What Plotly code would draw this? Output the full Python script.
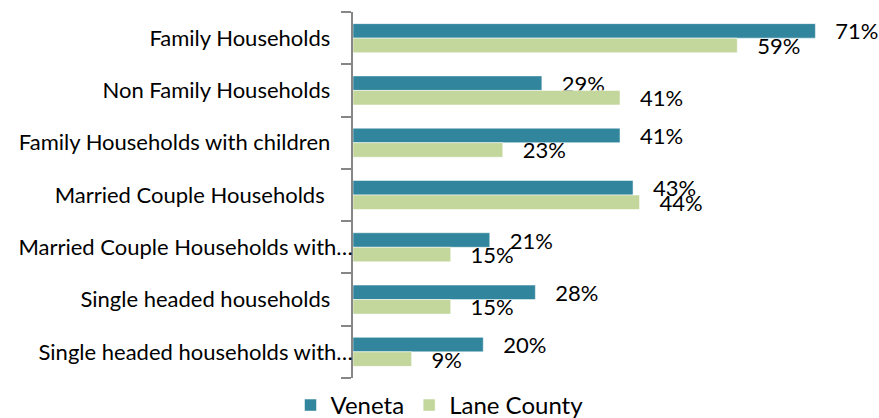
import plotly.graph_objects as go

categories = [
    "Family Households",
    "Non Family Households",
    "Family Households with children",
    "Married Couple Households",
    "Married Couple Households with…",
    "Single headed households",
    "Single headed households with…",
]
# trailing padding as in the source labels
label_pad = [4, 4, 4, 5, 0, 4, 0]
veneta = [71, 29, 41, 43, 21, 28, 20]
lane_county = [59, 41, 23, 44, 15, 15, 9]

NB = "\u00a0"
ticktext = [c + NB * p for c, p in zip(categories, label_pad)]

FONT = "Lato"
TEAL = "#31859C"
GREEN = "#C3D69B"

fig = go.Figure()
fig.add_trace(go.Bar(
    name="Veneta", y=categories, x=veneta, orientation="h",
    marker=dict(color=TEAL, line=dict(color="rgba(255,255,255,0.5)", width=1)),
    text=[f"{NB*3}{v}%" for v in veneta], textposition="outside",
    constraintext="none", cliponaxis=False,
    textfont=dict(family=FONT, size=22, color="#000000"),
))
fig.add_trace(go.Bar(
    name="Lane County", y=categories, x=lane_county, orientation="h",
    marker=dict(color=GREEN, line=dict(color="rgba(255,255,255,0.5)", width=1)),
    text=[f"{NB*3}{v}%" for v in lane_county], textposition="outside",
    constraintext="none", cliponaxis=False,
    textfont=dict(family=FONT, size=22, color="#000000"),
))

fig.update_layout(
    width=879, height=418,
    margin=dict(l=353, r=5, t=12, b=40, autoexpand=False),
    barmode="group", bargap=0.445, bargroupgap=0,
    plot_bgcolor="white", paper_bgcolor="white",
    font=dict(family=FONT, size=22, color="#000000"),
    showlegend=True,
    legend=dict(
        orientation="h", xref="container", yref="container",
        x=0.5, xanchor="center", y=0.03, yanchor="middle",
        font=dict(family=FONT, size=24, color="#000000"),
        traceorder="normal", itemwidth=30,
    ),
    hovermode=False,
)
fig.update_xaxes(range=[0, 80], visible=False, showgrid=False, zeroline=False)
fig.update_yaxes(
    categoryorder="array", categoryarray=categories, autorange="reversed",
    tickmode="array", tickvals=categories, ticktext=ticktext,
    ticks="outside", tickson="boundaries", ticklen=10, tickwidth=1.5,
    tickcolor="#868686", showline=True, linecolor="#868686", linewidth=1.5,
    showgrid=False, zeroline=False, ticklabelstandoff=-6,
    tickfont=dict(family=FONT, size=22, color="#000000"),
)

fig.write_html("out.html", config={"displayModeBar": False})
